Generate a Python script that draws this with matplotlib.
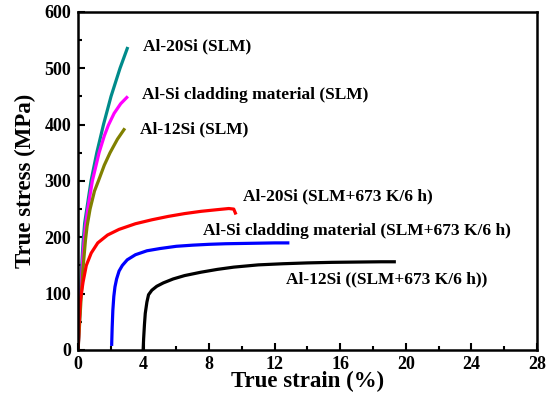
import matplotlib
matplotlib.use("Agg")
import matplotlib.pyplot as plt
from matplotlib.ticker import MultipleLocator

# as-built curves (strain %, stress MPa)
al20_x = [0, 0.1, 0.2, 0.3, 0.4, 0.53, 0.79, 1.14, 1.55, 2.01, 2.56, 3.0]
al20_y = [0, 70, 140, 190, 225, 250, 300, 350, 400, 450, 500, 535]
alsi_x = [0, 0.1, 0.2, 0.3, 0.45, 0.59, 0.87, 1.28, 1.6, 1.85, 2.2, 2.6, 2.97]
alsi_y = [0, 60, 120, 170, 220, 250, 300, 350, 380, 399, 420, 437, 448]
al12_x = [0, 0.1, 0.2, 0.3, 0.45, 0.55, 0.73, 1.0, 1.24, 1.6, 1.95, 2.4, 2.8]
al12_y = [0, 50, 100, 145, 195, 220, 250, 282, 300, 328, 350, 374, 391]

# heat treated curves
al20_ht_x = [0, 0.05, 0.1, 0.15, 0.2, 0.3, 0.5, 0.8, 1.2, 1.8, 2.5, 3.5, 4.5, 5.5, 6.5, 7.5, 8.5, 9.2, 9.5, 9.6]
al20_ht_y = [0, 40, 70, 90, 100, 120, 150, 172, 190, 204, 214, 224, 231, 237, 242, 246, 249, 251, 250, 243]
alsi_ht_x = [2.05, 2.08, 2.12, 2.18, 2.25, 2.35, 2.5, 2.7, 3.0, 3.5, 4.2, 5.0, 6.0, 7.0, 8.0, 9.0, 10.0, 11.0, 12.0, 12.8]
alsi_ht_y = [10, 40, 70, 95, 112, 126, 140, 150, 160, 169, 176, 180, 184, 186, 187.5, 188.5, 189, 189.5, 190, 190]
al12_ht_x = [3.97, 4.0, 4.05, 4.1, 4.2, 4.3, 4.5, 4.8, 5.2, 5.8, 6.5, 7.5, 8.5, 9.5, 11.0, 12.5, 14.0, 15.5, 17.0, 18.5, 19.3]
al12_ht_y = [0, 20, 45, 65, 85, 98, 106, 113, 119, 126, 132, 138, 143, 147, 151, 153, 154.5, 155.5, 156, 156.5, 156.5]

labels = ["Al-20Si (SLM)", "Al-Si cladding material (SLM)", "Al-12Si (SLM)",
          "Al-20Si (SLM+673 K/6 h)", "Al-Si cladding material (SLM+673 K/6 h)",
          "Al-12Si ((SLM+673 K/6 h))"]
label_pos = [(3.97, 538), (3.9, 453), (3.78, 391), (10.07, 273), (7.63, 211), (12.7, 126)]

plt.rcParams["font.family"] = ["Liberation Serif", "DejaVu Serif"]
plt.rcParams["font.weight"] = "bold"

fig = plt.figure(figsize=(5.5, 3.95), dpi=100)
ax = fig.add_axes([0.142, 0.114, 0.834, 0.856])

ax.plot(al20_x, al20_y, color="#008b8b", lw=2.3)
ax.plot(alsi_x, alsi_y, color="#ff00ff", lw=2.3)
ax.plot(al12_x, al12_y, color="#808000", lw=2.3)
ax.plot(al20_ht_x, al20_ht_y, color="#ff0000", lw=2.3)
ax.plot(alsi_ht_x, alsi_ht_y, color="#0000ff", lw=2.3)
ax.plot(al12_ht_x, al12_ht_y, color="black", lw=2.3)

for txt, (x, y) in zip(labels, label_pos):
    ax.text(x, y, txt, fontsize=12.5, fontweight="bold", va="center", ha="left")

ax.set_xlim(0, 28)
ax.set_ylim(0, 600)
ax.xaxis.set_major_locator(MultipleLocator(4))
ax.xaxis.set_minor_locator(MultipleLocator(2))
ax.yaxis.set_major_locator(MultipleLocator(100))
ax.yaxis.set_minor_locator(MultipleLocator(50))
ax.tick_params(which="both", direction="in", width=1.5, labelsize=13)
ax.tick_params(which="major", length=5)
ax.tick_params(which="minor", length=3)
ax.tick_params(axis="x", pad=4)
ax.tick_params(axis="y", pad=5)
for s in ax.spines.values():
    s.set_linewidth(1.8)
for lab in ax.get_xticklabels() + ax.get_yticklabels():
    lab.set_fontweight("bold")

ax.set_xlabel("True strain (%)", fontsize=16.5, fontweight="bold", labelpad=-1)
ax.set_ylabel("True stress (MPa)", fontsize=16.5, fontweight="bold", labelpad=6)

fig.savefig("out.png", dpi=100)
